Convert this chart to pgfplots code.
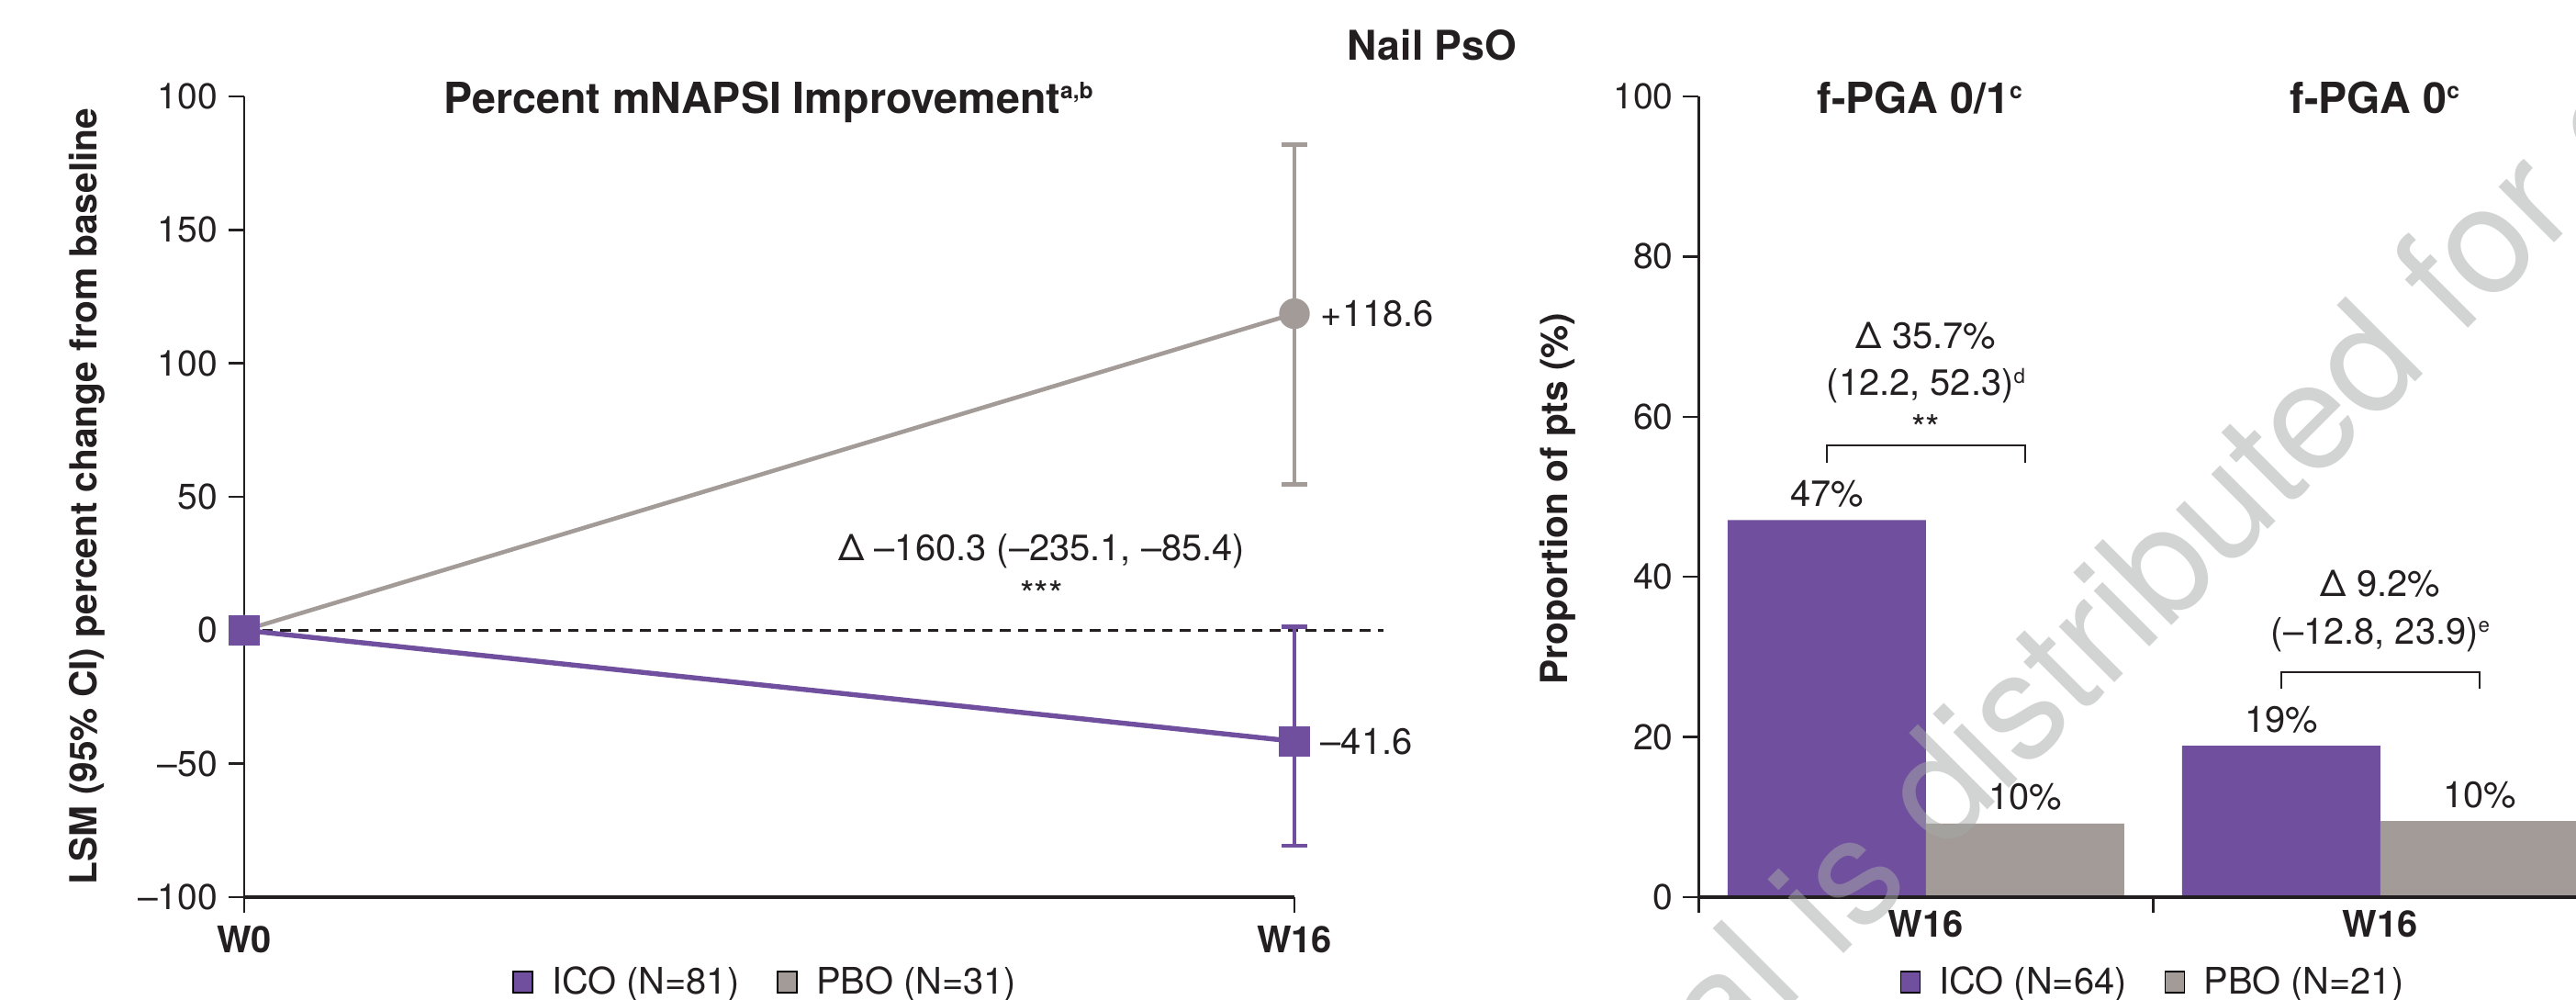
\documentclass[border=0pt]{standalone}
\usepackage{fontspec}
\setmainfont{TeX Gyre Heros}
\usepackage{pgfplots}
\pgfplotsset{compat=1.18}
\definecolor{ico}{RGB}{112,79,158}
\definecolor{pbo}{RGB}{163,155,151}
\definecolor{txt}{RGB}{35,31,32}
\definecolor{wm}{RGB}{166,169,168}
\newcommand\fs[1]{\fontsize{#1}{#1}\selectfont}
\newcommand\supa[1]{\raisebox{4bp}{\fs{6.2}#1}}
\newcommand\supb[1]{\raisebox{3.2bp}{\fs{5.6}#1}}
\pgfplotsset{
  sq/.style={legend image code/.code={\fill (0bp,-2.6bp) rectangle (5.3bp,3.1bp); \path (7.6bp,0bp);}},
  base/.style={
    scale only axis, height=218bp,
    axis x line*=bottom, axis y line*=left,
    x axis line style={-, line width=0.85bp, draw=txt},
    y axis line style={-, line width=0.6bp, draw=txt},
    tick align=outside, major tick length=4.3bp,
    tick style={line width=0.6bp, draw=txt},
    xticklabel style={font=\bfseries\fs{10}, text=txt},
    yticklabel style={font=\fs{9.8}, text=txt, inner xsep=2.75bp},
    legend style={draw=none, fill=none, legend columns=2, font=\fs{10},
      inner sep=0pt, text=txt,
      /tikz/every even column/.append style={column sep=7.5bp},
      nodes={inner xsep=2.7bp, inner ysep=0pt}},
    legend cell align=left,
  }
}
\begin{document}
\begin{tikzpicture}[x=1bp,y=1bp]
\useasboundingbox (0,0) rectangle (701.5,272);
% ---------------- left panel
\begin{axis}[base,
  at={(66.5bp,27.75bp)}, anchor=south west, width=286bp,
  xmin=0, xmax=16, ymin=-100, ymax=200,
  xtick={0,16}, xticklabels={W0,W16},
  ytick={-100,-50,0,50,100,150,200}, yticklabels={–100,–50,0,50,100,150,100},
  clip=false,
  legend style={at={(axis description cs:0.5,-0.107)}, anchor=center},
]
\addplot[forget plot, txt, line width=0.6bp, dash pattern=on 2.9bp off 2bp, mark=none] coordinates {(0,0) (17.36,0)};
\addplot[forget plot, draw=none, mark=none, error bars/.cd, y dir=both, y explicit,
  error bar style={draw=pbo, solid, line width=1bp},
  error mark options={rotate=90, draw=pbo, line width=1.2bp, mark size=3.6bp}]
  coordinates {(16,118.6) += (0,63.3) -= (0,63.9)};
\addplot[forget plot, pbo, line width=1.15bp, mark=*, mark size=3.6bp, mark options={fill=pbo, draw=none}]
  coordinates {(0,0) (16,118.6)};
\addplot[forget plot, draw=none, mark=none, error bars/.cd, y dir=both, y explicit,
  error bar style={draw=ico, solid, line width=1bp},
  error mark options={rotate=90, draw=ico, line width=1.2bp, mark size=3.6bp}]
  coordinates {(16,-41.6) += (0,42.9) -= (0,39.1)};
\addplot[forget plot, ico, line width=1.35bp, mark=square*, mark size=3.5bp, mark options={fill=ico, draw=none}]
  coordinates {(0,0) (16,-41.6)};
\addlegendimage{sq, fill=ico}
\addlegendentry{ICO (N=81)}
\addlegendimage{sq, fill=pbo}
\addlegendentry{PBO (N=31)}
\node[anchor=west, inner sep=0pt, xshift=7bp, font=\fs{10}, text=txt] at (axis cs:16,118.6) {+118.6};
\node[anchor=west, inner sep=0pt, xshift=7bp, font=\fs{10}, text=txt] at (axis cs:16,-41.6) {–41.6};
\node[anchor=base, inner sep=0pt, font=\fs{10}, text=txt] at (axis cs:12.15,26.1) {Δ –160.3 (–235.1, –85.4)};
\node[anchor=base, inner sep=0pt, font=\fs{10}, text=txt] at (axis cs:12.15,8.6) {***};
\end{axis}
% ---------------- right panel
\begin{axis}[base,
  at={(462.6bp,27.75bp)}, anchor=south west, width=247.5bp,
  xmin=-0.5, xmax=1.5, ymin=0, ymax=100,
  ybar=0pt, bar width=54bp,
  xtick={-0.5,0.5}, xticklabels={,},
  extra x ticks={0,1}, extra x tick labels={W16,W16},
  extra x tick style={major tick length=0pt},
  ytick={0,20,40,60,80,100}, yticklabels={0,20,40,60,80,100},
  yticklabel style={inner xsep=2.5bp},
  nodes near coords, point meta=explicit symbolic,
  every node near coord/.append style={font=\fs{10}, text=txt},
  axis on top,
  legend style={at={(axis description cs:0.504,-0.107)}, anchor=center},
]
\addplot[forget plot, fill=ico, draw=none, bar shift=-27bp] coordinates {(0,47.1) [47\%] (1,18.9) [19\%]};
\addplot[forget plot, fill=pbo, draw=none, bar shift=27bp] coordinates {(0,9.2) [10\%] (1,9.5) [10\%]};
\addlegendimage{sq, fill=ico}
\addlegendentry{ICO (N=64)}
\addlegendimage{sq, fill=pbo}
\addlegendentry{PBO (N=21)}
\draw[txt, line width=0.5bp] (axis cs:-0.219,54.2) -- (axis cs:-0.219,56.4) -- (axis cs:0.219,56.4) -- (axis cs:0.219,54.2);
\draw[txt, line width=0.5bp] (axis cs:0.781,26.0) -- (axis cs:0.781,28.1) -- (axis cs:1.219,28.1) -- (axis cs:1.219,26.0);
\node[anchor=base, inner sep=0pt, font=\fs{10}, text=txt] at (axis cs:0,68.5) {Δ 35.7\%};
\node[anchor=base, inner sep=0pt, font=\fs{10}, text=txt] at (axis cs:0,62.7) {(12.2, 52.3)\supb{d}};
\node[anchor=base, inner sep=0pt, font=\fs{10}, text=txt] at (axis cs:0,56.9) {**};
\node[anchor=base, inner sep=0pt, font=\fs{10}, text=txt] at (axis cs:1,37.6) {Δ 9.2\%};
\node[anchor=base, inner sep=0pt, font=\fs{10}, text=txt] at (axis cs:1,31.6) {(–12.8, 23.9)\supb{e}};
\end{axis}
% ---------------- titles and labels
\node[anchor=base, inner sep=0pt, font=\bfseries\fs{11.2}, text=txt] at (390,255.75) {Nail PsO};
\node[anchor=base west, inner sep=0pt, font=\bfseries\fs{11.7}, text=txt] at (120.75,241.25) {Percent mNAPSI Improvement\supa{a,b}};
\node[anchor=base west, inner sep=0pt, font=\bfseries\fs{11.7}, text=txt] at (494.75,241.25) {f-PGA 0/1\supa{c}};
\node[anchor=base west, inner sep=0pt, font=\bfseries\fs{11.7}, text=txt] at (623.5,241.25) {f-PGA 0\supa{c}};
\node[rotate=90, anchor=base, inner sep=0pt, font=\bfseries\fs{10.2}, text=txt] at (26.25,136.9) {LSM (95\% CI) percent change from baseline};
\node[rotate=90, anchor=base, inner sep=0pt, font=\bfseries\fs{10.2}, text=txt] at (426.75,136.25) {Proportion of pts (\%)};
% watermark
\node[rotate=45, anchor=base west, inner sep=0pt, font=\fs{41}, text=wm, text opacity=0.5] at (327.1,-162.6) {This material is distributed for educational purposes};
\end{tikzpicture}
\end{document}
